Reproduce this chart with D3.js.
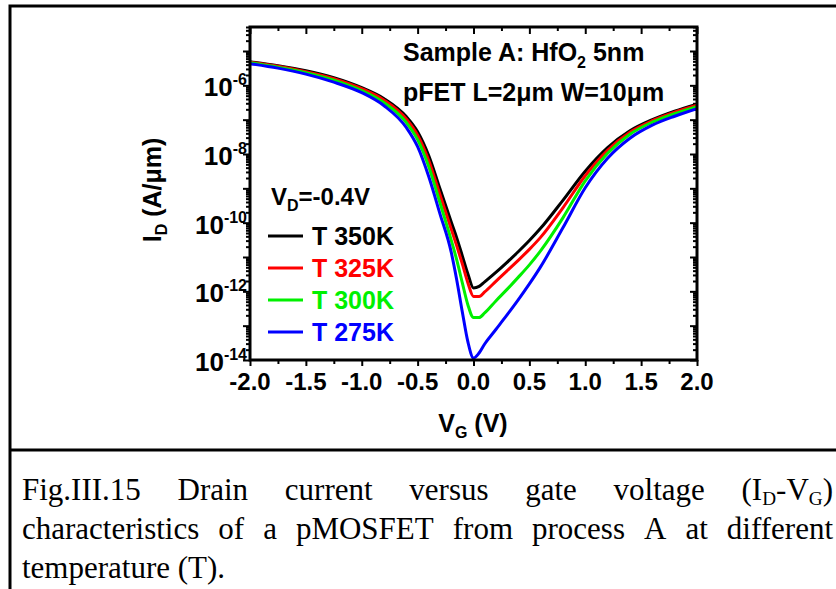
<!DOCTYPE html>
<html>
<head>
<meta charset="utf-8">
<script src="https://cdn.jsdelivr.net/npm/d3@7/dist/d3.min.js"></script>
<style>
  html, body { margin: 0; padding: 0; background: #fff; }
  svg { display: block; }
</style>
</head>
<body>
<svg id="chart" width="836" height="589"></svg>
<script>
// Gate voltage sweep (V)
const gateVoltage = [-2.0, -1.75, -1.5, -1.25, -1.0, -0.8, -0.6, -0.5, -0.4, -0.3, -0.2, -0.15, -0.1, -0.05, 0.0,
  0.05, 0.1, 0.2, 0.3, 0.4, 0.5, 0.6, 0.8, 1.0, 1.2, 1.4, 1.6, 1.8, 2.0];

// Drain current (A/um) at each temperature
const current350K = [4.9e-6, 3.75e-6, 2.68e-6, 1.67e-6, 8.55e-7, 4.09e-7, 1.22e-7, 4.46e-8, 8.89e-9, 9.7e-10,
  1.06e-10, 3.61e-11, 1.08e-11, 3.22e-12, 1.26e-12, 1.39e-12, 1.88e-12, 3.54e-12, 6.97e-12, 1.42e-11,
  3.01e-11, 6.84e-11, 4.48e-10, 3.16e-9, 1.53e-8, 4.73e-8, 9.98e-8, 1.77e-7, 2.84e-7];
const current325K = [4.74e-6, 3.62e-6, 2.51e-6, 1.57e-6, 8.0e-7, 3.7e-7, 1.03e-7, 3.52e-8, 6.35e-9, 6.49e-10,
  6.6e-11, 2.11e-11, 6.31e-12, 1.76e-12, 7.11e-13, 7.11e-13, 9.62e-13, 1.95e-12, 3.95e-12, 7.98e-12,
  1.67e-11, 3.73e-11, 2.71e-10, 2.32e-9, 1.29e-8, 4.32e-8, 9.33e-8, 1.65e-7, 2.64e-7];
const current300K = [4.58e-6, 3.39e-6, 2.34e-6, 1.42e-6, 7.0e-7, 3.13e-7, 8.17e-8, 2.61e-8, 4.25e-9, 3.79e-10,
  3.16e-11, 8.24e-12, 1.76e-12, 4.02e-13, 1.73e-13, 1.73e-13, 2.35e-13, 5.26e-13, 1.14e-12, 2.55e-12,
  5.89e-12, 1.51e-11, 1.38e-10, 1.66e-9, 1.05e-8, 3.77e-8, 8.43e-8, 1.49e-7, 2.39e-7];
const current275K = [4.29e-6, 3.17e-6, 2.12e-6, 1.24e-6, 6.12e-7, 2.55e-7, 5.83e-8, 1.63e-8, 2.17e-9, 1.81e-10,
  1.41e-11, 2.15e-12, 2.51e-13, 3.35e-14, 1.14e-14, 1.6e-14, 2.93e-14, 7.74e-14, 2.05e-13, 5.62e-13,
  1.64e-12, 5.15e-12, 7.08e-11, 1.04e-9, 7.52e-9, 2.88e-8, 6.9e-8, 1.26e-7, 2.09e-7];

const seriesLabels = ["T 350K", "T 325K", "T 300K", "T 275K"];
const seriesColors = ["#000000", "#ff0000", "#00f000", "#0000ff"];
const seriesValues = [current350K, current325K, current300K, current275K];

// Axis ticks
const xTickLabels = [-2.0, -1.5, -1.0, -0.5, 0.0, 0.5, 1.0, 1.5, 2.0];
const xMinorTicks = [-1.75, -1.25, -0.75, -0.25, 0.25, 0.75, 1.25, 1.75];
const yLabelExponents = [-14, -12, -10, -8, -6];
const yDecadeExponents = [-14, -13, -12, -11, -10, -9, -8, -7, -6, -5];

const svg = d3.select("#chart");
const plot = { left: 250, right: 697, top: 27, bottom: 360 };
const sans = "'Liberation Sans', Arial, sans-serif";
const serif = "'Liberation Serif', 'Times New Roman', serif";

const x = d3.scaleLinear().domain([-2, 2]).range([plot.left, plot.right]);
const y = d3.scaleLog().domain([1e-14, 5e-5]).range([plot.bottom, plot.top]);

// Figure frame: left edge, top edge and the rule above the caption
svg.append("path")
  .attr("d", "M10,589 V6 H836 M10,450 H836")
  .attr("fill", "none").attr("stroke", "#000").attr("stroke-width", 3);

// Tick positions
const yMajor = yDecadeExponents.map(e => Math.pow(10, e));
const yMinor = [];
yDecadeExponents.forEach(e => {
  for (let m = 2; m <= 9; m++) {
    const v = m * Math.pow(10, e);
    if (v <= y.domain()[1] * 1.0001) yMinor.push(v);
  }
});

function styleAxis(g) {
  g.select(".domain").remove();
  g.selectAll(".tick line").attr("stroke", "#000").attr("stroke-width", 2);
  g.selectAll(".tick text").remove();
}

// bottom (outward) and top (inward) x ticks
svg.append("g").attr("transform", `translate(0,${plot.bottom})`)
  .call(d3.axisBottom(x).tickValues(xTickLabels).tickSize(6).tickFormat("")).call(styleAxis);
svg.append("g").attr("transform", `translate(0,${plot.bottom})`)
  .call(d3.axisBottom(x).tickValues(xMinorTicks).tickSize(4).tickFormat("")).call(styleAxis);
svg.append("g").attr("transform", `translate(0,${plot.top})`)
  .call(d3.axisBottom(x).tickValues(xTickLabels).tickSize(7).tickFormat("")).call(styleAxis);
svg.append("g").attr("transform", `translate(0,${plot.top})`)
  .call(d3.axisBottom(x).tickValues(xMinorTicks).tickSize(4).tickFormat("")).call(styleAxis);

// left (outward) and right (inward) y ticks
svg.append("g").attr("transform", `translate(${plot.left},0)`)
  .call(d3.axisLeft(y).tickValues(yMajor).tickSize(7).tickFormat("")).call(styleAxis);
svg.append("g").attr("transform", `translate(${plot.left},0)`)
  .call(d3.axisLeft(y).tickValues(yMinor).tickSize(4).tickFormat("")).call(styleAxis);
svg.append("g").attr("transform", `translate(${plot.right},0)`)
  .call(d3.axisLeft(y).tickValues(yMajor).tickSize(7).tickFormat("")).call(styleAxis);
svg.append("g").attr("transform", `translate(${plot.right},0)`)
  .call(d3.axisLeft(y).tickValues(yMinor).tickSize(4).tickFormat("")).call(styleAxis);

// Curves
svg.append("clipPath").attr("id", "plotClip").append("rect")
  .attr("x", plot.left).attr("y", plot.top)
  .attr("width", plot.right - plot.left).attr("height", plot.bottom - plot.top);

const line = d3.line()
  .x(d => x(d[0]))
  .y(d => y(d[1]))
  .curve(d3.curveMonotoneX);

const curves = svg.append("g").attr("clip-path", "url(#plotClip)");
seriesValues.forEach((vals, i) => {
  curves.append("path")
    .datum(gateVoltage.map((v, j) => [v, vals[j]]))
    .attr("d", line)
    .attr("fill", "none")
    .attr("stroke", seriesColors[i])
    .attr("stroke-width", 3)
    .attr("stroke-linejoin", "round");
});

// Plot frame
svg.append("rect")
  .attr("x", plot.left).attr("y", plot.top)
  .attr("width", plot.right - plot.left).attr("height", plot.bottom - plot.top)
  .attr("fill", "none").attr("stroke", "#000").attr("stroke-width", 3);

// X tick labels
svg.append("g").selectAll("text").data(xTickLabels).join("text")
  .attr("x", d => x(d)).attr("y", 390)
  .attr("text-anchor", "middle")
  .attr("font-family", sans).attr("font-weight", "bold").attr("font-size", 24)
  .text(d => d3.format(".1f")(d).replace("\u2212", "-"));

// Y tick labels (powers of ten)
const yLab = svg.append("g").selectAll("text").data(yLabelExponents).join("text")
  .attr("x", 247).attr("y", d => y(Math.pow(10, d)) + 11)
  .attr("text-anchor", "end")
  .attr("font-family", sans).attr("font-weight", "bold").attr("font-size", 26);
yLab.append("tspan").text("10");
yLab.append("tspan").attr("dy", -11).attr("font-size", 16).text(d => "-" + Math.abs(d));

// Axis titles
const yTitle = svg.append("text")
  .attr("transform", "translate(161,190) rotate(-90)")
  .attr("text-anchor", "middle")
  .attr("font-family", sans).attr("font-weight", "bold").attr("font-size", 25);
yTitle.append("tspan").text("I");
yTitle.append("tspan").attr("dy", 6).attr("font-size", 16).text("D");
yTitle.append("tspan").attr("dy", -6).text(" (A/\u03bcm)");

const xTitle = svg.append("text")
  .attr("x", 473).attr("y", 432)
  .attr("text-anchor", "middle")
  .attr("font-family", sans).attr("font-weight", "bold").attr("font-size", 25);
xTitle.append("tspan").text("V");
xTitle.append("tspan").attr("dy", 6).attr("font-size", 16).text("G");
xTitle.append("tspan").attr("dy", -6).text(" (V)");

// Sample annotation
const note1 = svg.append("text").attr("x", 403).attr("y", 61)
  .attr("font-family", sans).attr("font-weight", "bold").attr("font-size", 25);
note1.append("tspan").text("Sample A: HfO");
note1.append("tspan").attr("dy", 7).attr("font-size", 16).text("2");
note1.append("tspan").attr("dy", -7).text(" 5nm");
svg.append("text").attr("x", 403).attr("y", 101)
  .attr("font-family", sans).attr("font-weight", "bold").attr("font-size", 25)
  .text("pFET L=2\u03bcm W=10\u03bcm");

// Legend
const legHead = svg.append("text").attr("x", 271).attr("y", 205)
  .attr("font-family", sans).attr("font-weight", "bold").attr("font-size", 24);
legHead.append("tspan").text("V");
legHead.append("tspan").attr("dy", 6).attr("font-size", 16).text("D");
legHead.append("tspan").attr("dy", -6).text("=-0.4V");

const legendRows = [236, 268, 300, 332];
seriesLabels.forEach((lab, i) => {
  svg.append("line")
    .attr("x1", 268).attr("x2", 303)
    .attr("y1", legendRows[i]).attr("y2", legendRows[i])
    .attr("stroke", seriesColors[i]).attr("stroke-width", 3);
  svg.append("text")
    .attr("x", 312).attr("y", legendRows[i] + 9)
    .attr("font-family", sans).attr("font-weight", "bold").attr("font-size", 25)
    .attr("fill", seriesColors[i])
    .text(lab);
});

// Caption, justified between the frame margins
const captionLines = [
  { y: 500, justify: true, words: [[["Fig.III.15"]], [["Drain"]], [["current"]], [["versus"]], [["gate"]], [["voltage"]],
    [["(I"], ["D", "sub"], ["-V"], ["G", "sub"], [")"]]] },
  { y: 539, justify: true, words: ["characteristics", "of", "a", "pMOSFET", "from", "process", "A", "at", "different"].map(w => [[w]]) },
  { y: 578, justify: false, words: [[["temperature"]], [["(T)."]]] }
];
const capX0 = 22, capX1 = 833, capSize = 31;
captionLines.forEach(ln => {
  const nodes = ln.words.map(parts => {
    const t = svg.append("text").attr("y", ln.y)
      .attr("font-family", serif).attr("font-size", capSize);
    let shifted = false;
    parts.forEach(([s, kind]) => {
      const ts = t.append("tspan").text(s);
      if (kind === "sub") { ts.attr("font-size", capSize * 0.62).attr("dy", 5); shifted = true; }
      else if (shifted) { ts.attr("dy", -5); shifted = false; }
    });
    return t;
  });
  const widths = nodes.map(n => n.node().getComputedTextLength());
  const total = d3.sum(widths);
  const gap = ln.justify ? (capX1 - capX0 - total) / (nodes.length - 1) : capSize * 0.25;
  let cx = capX0;
  nodes.forEach((n, i) => { n.attr("x", cx); cx += widths[i] + gap; });
});
</script>
</body>
</html>
